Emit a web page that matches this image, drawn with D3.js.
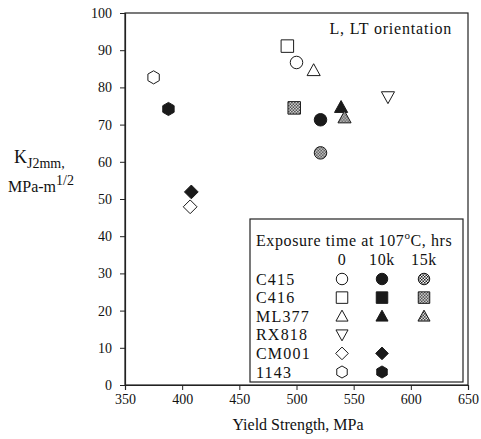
<!DOCTYPE html>
<html lang="en">
<head>
<meta charset="utf-8">
<title>KJ2mm vs Yield Strength</title>
<script src="https://cdn.jsdelivr.net/npm/d3@7"></script>
<style>
  body { margin: 0; background: #fff; }
  svg text { font-family: "Liberation Serif", "DejaVu Serif", serif; fill: #111; }
</style>
</head>
<body>
<script>
// ---- data ----
let alloys = ["C415", "C416", "ML377", "RX818", "CM001", "1143"]
let exposures = ["0", "10k", "15k"]
let alloyShape = ["circle", "square", "triangle", "down", "diamond", "hexagon"]
// which exposure columns each alloy has in the legend
let alloyExposures = [["0","10k","15k"], ["0","10k","15k"], ["0","10k","15k"], ["0"], ["0","10k"], ["0","10k"]]

let pointAlloy    = ["1143", "1143", "CM001", "CM001", "C416", "C415", "ML377", "C416", "C415", "ML377", "ML377", "RX818", "C415"]
let pointExposure = ["0",    "10k",  "10k",   "0",     "0",    "0",    "0",     "15k",  "10k",  "10k",   "15k",   "0",     "15k"]
let pointYield    = [375,    388,    408,     407,     492,    500,    515,     498,    521,    539,     542,     580,     521]
let pointK        = [82.7,   74.2,   51.9,    47.9,    91.1,   86.7,   84.6,    74.5,   71.3,   74.7,    71.9,    77.4,    62.4]

let xTicks = [350, 400, 450, 500, 550, 600, 650]
let yTicks = [0, 10, 20, 30, 40, 50, 60, 70, 80, 90, 100]

let width = 481
let height = 439

let svg = d3.select("body").append("svg")
    .attr("width", width)
    .attr("height", height)

let defs = svg.append("defs")
let pat = defs.append("pattern")
    .attr("id", "hatch")
    .attr("patternUnits", "userSpaceOnUse")
    .attr("width", 3).attr("height", 3)
pat.append("rect").attr("width", 3).attr("height", 3).attr("fill", "#fff")
pat.append("rect").attr("width", 1.5).attr("height", 1.5).attr("fill", "#222")
pat.append("rect").attr("x", 1.5).attr("y", 1.5).attr("width", 1.5).attr("height", 1.5).attr("fill", "#222")

let xScale = d3.scaleLinear().domain([350, 650]).range([125, 468])
let yScale = d3.scaleLinear().domain([0, 100]).range([385, 13])

// frame
svg.append("rect")
    .attr("x", xScale(350)).attr("y", yScale(100))
    .attr("width", xScale(650) - xScale(350))
    .attr("height", yScale(0) - yScale(100))
    .attr("fill", "none").attr("stroke", "#222").attr("stroke-width", 1.2)

let xAxis = d3.axisBottom(xScale).tickValues(xTicks).tickSize(5).tickPadding(4).tickFormat(d => d)
let yAxis = d3.axisLeft(yScale).tickValues(yTicks).tickSize(5).tickPadding(8).tickFormat(d => d)

let gx = svg.append("g").attr("transform", `translate(0,${yScale(0)})`).call(xAxis)
let gy = svg.append("g").attr("transform", `translate(${xScale(350)},0)`).call(yAxis)
;[gx, gy].forEach(g => {
    g.select(".domain").attr("stroke", "#222").attr("stroke-width", 1.2)
    g.selectAll(".tick line").attr("stroke", "#222")
    g.selectAll("text").attr("font-size", 14).attr("font-family", "Liberation Serif").attr("fill", "#111")
})

// symbol paths
let shapePath = (shape, s) => {
    let r = s / 2
    if (shape === "circle") return d3.symbol(d3.symbolCircle, Math.PI * r * r)()
    if (shape === "square") return `M${-r},${-r}H${r}V${r}H${-r}Z`
    if (shape === "triangle") return `M0,${-r * 1.05}L${r * 1.05},${r * 0.85}L${-r * 1.05},${r * 0.85}Z`
    if (shape === "down") return `M0,${r * 1.05}L${r * 1.05},${-r * 0.85}L${-r * 1.05},${-r * 0.85}Z`
    if (shape === "diamond") return `M0,${-r * 1.1}L${r * 1.1},0L0,${r * 1.1}L${-r * 1.1},0Z`
    if (shape === "hexagon") {
        let pts = d3.range(6).map(i => {
            let a = Math.PI / 6 + i * Math.PI / 3
            return [r * 1.05 * Math.cos(a), r * 1.05 * Math.sin(a)]
        })
        return "M" + pts.join("L") + "Z"
    }
}
let fillFor = exp => exp === "0" ? "#fff" : exp === "10k" ? "#1a1a1a" : "url(#hatch)"

let drawMarker = (g, alloy, exp, x, y, s) => {
    let shape = alloyShape[alloys.indexOf(alloy)]
    g.append("path")
        .attr("d", shapePath(shape, s))
        .attr("transform", `translate(${x},${y})`)
        .attr("fill", fillFor(exp))
        .attr("stroke", "#1a1a1a")
        .attr("stroke-width", 1)
}

let pts = svg.append("g")
pointAlloy.forEach((a, i) => {
    drawMarker(pts, a, pointExposure[i], xScale(pointYield[i]), yScale(pointK[i]), 12.5)
})

// legend
let lg = svg.append("g")
lg.append("rect")
    .attr("x", 250).attr("y", 219).attr("width", 213).attr("height", 163)
    .attr("fill", "#fff").attr("stroke", "#222").attr("stroke-width", 1.2)
let title = lg.append("text").attr("x", 256).attr("y", 246).attr("font-size", 16)
    .attr("letter-spacing", 0.6)
title.append("tspan").text("Exposure time at 107")
title.append("tspan").attr("dy", -7).attr("font-size", 11).text("o")
title.append("tspan").attr("dy", 7).text("C, hrs")

let colX = [342, 382, 424]
exposures.forEach((e, j) => {
    lg.append("text").attr("x", colX[j]).attr("y", 265).attr("text-anchor", "middle")
        .attr("font-size", 16).attr("letter-spacing", 0.6).text(e)
})
alloys.forEach((a, i) => {
    let cy = 279 + i * 18.6
    lg.append("text").attr("x", 256).attr("y", cy + 5.5).attr("font-size", 16)
        .attr("letter-spacing", 1.2).text(a)
    alloyExposures[i].forEach(e => {
        drawMarker(lg, a, e, colX[exposures.indexOf(e)], cy, 11.5)
    })
})

// annotations
svg.append("text").attr("x", 452).attr("y", 34).attr("text-anchor", "end")
    .attr("font-size", 16).attr("letter-spacing", 0.8).text("L, LT orientation")

svg.append("text").attr("x", 298).attr("y", 430).attr("text-anchor", "middle")
    .attr("font-size", 16).text("Yield Strength, MPa")

let yl1 = svg.append("text").attr("x", 14).attr("y", 163).attr("font-size", 18)
yl1.append("tspan").text("K")
yl1.append("tspan").attr("dy", 5).attr("font-size", 14).text("J2mm")
yl1.append("tspan").attr("font-size", 14).text(",")
let yl2 = svg.append("text").attr("x", 8).attr("y", 192).attr("font-size", 16)
yl2.append("tspan").text("MPa-m")
yl2.append("tspan").attr("dy", -7).attr("font-size", 14).text("1/2")
</script>
</body>
</html>
